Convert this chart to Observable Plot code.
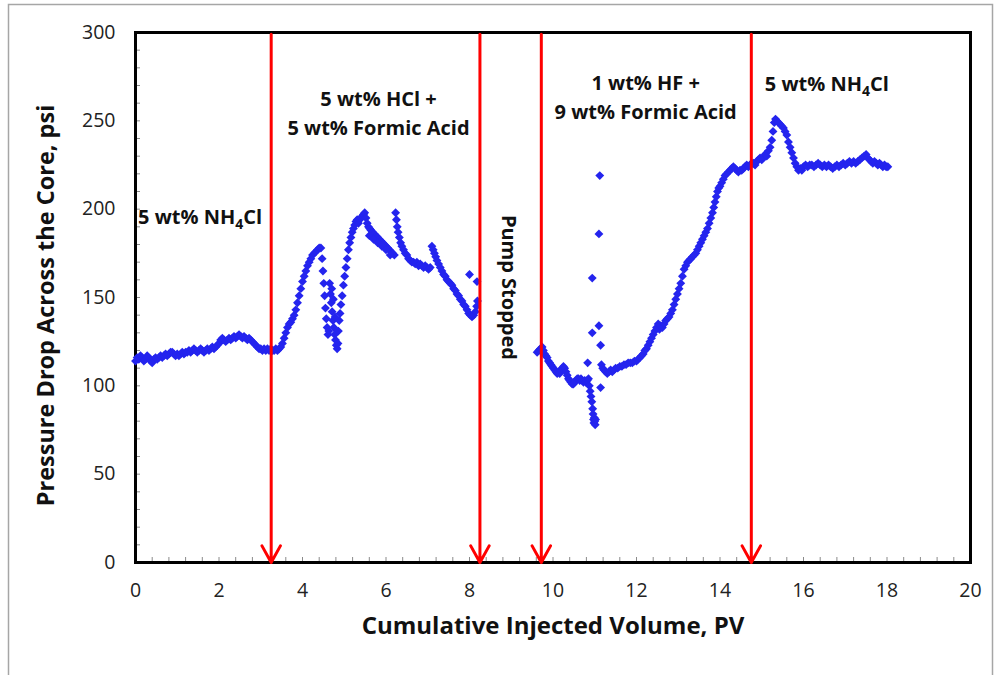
<!DOCTYPE html>
<html>
<head>
<meta charset="utf-8">
<script src="https://cdn.jsdelivr.net/npm/d3@7"></script>
<script src="https://cdn.jsdelivr.net/npm/@observablehq/plot@0.6"></script>
<style>
  html, body { margin: 0; padding: 0; background: #fff; }
</style>
</head>
<body>
<script>
// Core flood: pressure drop vs cumulative injected pore volumes, [PV, psi] per stage
const brinePre = [
  [0.00,114],[0.04,116],[0.08,115],[0.12,117],[0.16,116],[0.20,114],[0.24,115],[0.28,117],[0.32,116],[0.36,114],
  [0.40,113],[0.44,115],[0.48,116],[0.52,115],[0.56,116],[0.60,117],[0.64,116],[0.68,117],[0.72,118],[0.76,117],
  [0.80,118],[0.84,119],[0.88,119],[0.92,118],[0.96,117],[1.00,118],[1.04,117],[1.08,118],[1.12,119],[1.16,118],
  [1.20,119],[1.24,119],[1.28,120],[1.32,119],[1.36,120],[1.40,121],[1.44,120],[1.48,119],[1.52,120],[1.56,121],
  [1.60,120],[1.64,119],[1.68,120],[1.72,121],[1.76,120],[1.80,121],[1.84,122],[1.88,121],[1.92,122],[1.96,123],
  [2.00,124],[2.04,126],[2.08,127],[2.12,126],[2.16,125],[2.20,126],[2.24,127],[2.28,126],[2.32,127],[2.36,128],
  [2.40,127],[2.44,128],[2.48,129],[2.52,128],[2.56,127],[2.60,128],[2.64,127],[2.68,126],[2.72,127],[2.76,126],
  [2.80,125],[2.84,124],[2.88,123],[2.92,122],[2.96,121],[3.00,121],[3.04,120],[3.08,121],[3.12,120],[3.16,121],
  [3.20,120]
];

const hclFormic = [
  [3.24,121],[3.28,120],[3.32,120],[3.36,121],[3.40,120],[3.44,121],[3.48,122],
  [3.52,124],[3.56,127],[3.60,130],[3.64,133],[3.68,135],[3.72,136],[3.76,138],[3.80,140],[3.84,143],[3.88,147],
  [3.92,151],[3.96,155],[4.00,159],[4.04,162],[4.08,165],[4.12,168],[4.16,170],[4.20,172],[4.24,174],[4.28,175],
  [4.32,176],[4.36,177],[4.40,178],[4.44,178],[4.47,172],[4.49,165],[4.51,158],[4.53,151],[4.55,144],[4.57,138],
  [4.59,133],[4.61,129],[4.63,131],[4.65,158],[4.67,152],[4.69,147],[4.71,142],[4.73,137],[4.75,133],[4.77,129],
  [4.79,126],[4.81,123],[4.83,121],[4.85,124],[4.86,131],[4.88,137],[4.70,155],[4.74,149],[4.78,139],
  [4.90,141],[4.92,146],[4.95,151],[4.98,157],[5.01,162],[5.04,167],[5.07,172],[5.10,177],[5.13,181],[5.16,184],
  [5.19,187],[5.22,189],[5.25,191],[5.28,193],[5.31,194],[5.34,192],[5.37,194],[5.40,195],[5.43,196],[5.46,197],
  [5.49,198],[5.52,195],[5.55,192],[5.58,190],[5.61,189],[5.64,188],[5.68,187],[5.72,186],[5.76,185],[5.80,184],
  [5.84,183],[5.88,182],[5.92,181],[5.96,180],[6.00,179],[6.04,178],[6.08,177],[6.12,176],[6.16,175],[6.20,174],
  [5.60,185],[5.70,183],[5.80,181],[5.90,179],[6.00,177],[6.10,174],
  [6.23,198],[6.25,194],[6.27,190],[6.29,187],[6.32,184],[6.35,181],[6.38,179],[6.42,177],[6.46,175],[6.50,174],
  [6.54,172],[6.58,171],[6.62,170],[6.66,170],[6.70,169],[6.74,170],[6.78,168],[6.82,169],[6.86,168],[6.90,167],
  [6.94,168],[6.98,167],[7.02,166],[7.06,167],[7.10,179],[7.13,177],[7.16,175],[7.19,173],[7.22,171],[7.26,169],
  [7.30,167],[7.34,165],[7.38,163],[7.42,162],[7.46,160],[7.50,159],[7.54,158],[7.58,157],[7.62,155],[7.66,154],
  [7.70,152],[7.74,151],[7.78,149],[7.82,148],[7.86,146],[7.90,145],[7.94,143],[7.98,141],[8.02,140],[8.06,139],
  [8.10,140],[8.14,142],[8.17,145],[8.19,148],[8.00,163],[8.18,159]
];

const hfFormic = [
  [9.62,119],[9.66,120],[9.70,121],[9.74,122],[9.77,120],[9.80,118],[9.83,117],[9.86,116],[9.89,114],[9.92,113],
  [9.95,112],[9.98,111],[10.01,110],[10.04,109],[10.07,108],[10.10,107],[10.13,108],[10.16,107],[10.19,109],[10.22,110],
  [10.25,111],[10.28,110],[10.31,108],[10.34,106],[10.37,104],[10.40,103],[10.43,102],[10.46,101],[10.49,101],[10.52,102],
  [10.55,103],[10.58,104],[10.61,104],[10.64,103],[10.67,104],[10.70,103],[10.73,102],[10.76,103],[10.79,102],[10.82,103],
  [10.83,113],[10.85,104],[10.87,100],[10.89,97],[10.91,94],[10.93,91],[10.95,87],[10.96,84],[10.97,81],[10.98,79],
  [10.99,82],[11.00,80],[11.01,78],[11.02,81],[10.94,161],[10.94,130],[11.10,186],[11.12,219],[11.10,134],[11.14,123],
  [11.14,99],
  [11.16,112],[11.19,110],[11.22,109],[11.26,108],[11.30,107],[11.34,108],[11.38,109],[11.42,108],[11.46,109],[11.50,110],
  [11.55,110],[11.60,111],[11.65,111],[11.70,112],[11.75,112],[11.80,113],[11.85,113],[11.90,113],[11.95,114],[12.00,114],
  [12.04,115],[12.08,116],[12.12,117],[12.16,118],[12.20,120],[12.24,121],[12.28,123],[12.32,125],[12.36,127],[12.40,129],
  [12.44,131],[12.48,133],[12.52,135],[12.55,132],[12.58,134],[12.62,133],[12.66,135],[12.70,137],[12.74,138],[12.78,139],
  [12.82,141],[12.86,143],[12.90,146],[12.94,149],[12.98,152],[13.02,155],[13.06,158],[13.10,162],[13.14,166],[13.18,168],
  [13.22,170],[13.26,171],[13.30,172],[13.34,173],[13.38,174],[13.42,175],[13.46,177],[13.50,179],[13.54,181],[13.58,183],
  [13.62,185],[13.66,187],[13.70,189],[13.74,192],[13.78,195],[13.82,198],[13.85,201],[13.88,204],[13.91,207],[13.94,210],
  [13.97,212],[14.00,213],[14.04,215],[14.08,217],[14.12,219],[14.16,220],[14.20,221],[14.24,222],[14.28,223],[14.32,224],
  [14.36,223],[14.40,222],[14.44,221],[14.48,222],[14.52,222],[14.56,223],[14.60,224],[14.64,225],[14.68,224],[14.72,225]
];

const brinePost = [
  [14.76,226],[14.80,226],[14.84,225],[14.88,227],[14.92,228],[14.96,229],[15.00,228],[15.04,229],[15.08,231],[15.12,230],
  [15.16,233],[15.20,235],[15.24,239],[15.27,244],[15.30,249],[15.33,251],[15.36,250],[15.40,249],[15.44,248],[15.48,247],
  [15.52,246],[15.56,244],[15.60,242],[15.64,238],[15.68,235],[15.72,232],[15.76,229],[15.80,226],[15.84,224],[15.88,222],
  [15.92,223],[15.96,222],[16.00,224],[16.05,225],[16.10,224],[16.15,225],[16.20,225],[16.25,224],[16.30,225],[16.35,226],
  [16.40,225],[16.45,224],[16.50,225],[16.55,224],[16.60,225],[16.65,224],[16.70,223],[16.75,224],[16.80,225],[16.85,224],
  [16.90,225],[16.95,226],[17.00,225],[17.05,226],[17.10,227],[17.15,226],[17.20,227],[17.25,226],[17.30,227],[17.35,228],
  [17.40,229],[17.45,230],[17.50,231],[17.54,229],[17.58,228],[17.62,227],[17.66,226],[17.70,227],[17.74,226],[17.78,225],
  [17.82,226],[17.86,225],[17.90,224],[17.94,225],[17.98,224],[18.02,224]
];

// Fluid switch points (PV)
const switchPV = [3.25, 8.25, 9.72, 14.75];

// Axis ticks
const xTicks = [0, 2, 4, 6, 8, 10, 12, 14, 16, 18, 20];
const xMinor = d3.range(0, 51).map(i => i * 0.4);
const yTicks = [0, 50, 100, 150, 200, 250, 300];
const yMinor = d3.range(0, 31).map(i => i * 10);

// Stage labels
const stageLabels = [
  {pv: 5.82, dp: 255.3, text: "5 wt% HCl +\n5 wt% Formic Acid"},
  {pv: 12.22, dp: 264.6, text: "1 wt% HF +\n9 wt% Formic Acid"}
];
const brineLabels = [
  {pv: 1.56, dp: 195.3},
  {pv: 16.57, dp: 270.6}
];
const pumpLabel = [{pv: 8.93, dp: 155.7, text: "Pump Stopped"}];

const xTitle = "Cumulative Injected Volume, PV";
const yTitle = "Pressure Drop Across the Core, psi";

const points = [...brinePre, ...hclFormic, ...hfFormic, ...brinePost].map(([pv, dp]) => ({pv, dp}));

const FONT = "'Open Sans', Lato, sans-serif";
const LABEL_SIZE = 20;

const chart = Plot.plot({
  width: 1001,
  height: 675,
  marginLeft: 135,
  marginRight: 31,
  marginTop: 32,
  marginBottom: 113,
  style: {fontFamily: FONT, color: "#222", background: "#fff"},
  x: {domain: [0, 20], label: null},
  y: {domain: [0, 300], label: null},
  marks: [
    // minor ticks drawn inside the frame
    Plot.axisX({ticks: xMinor, tickSize: -5, tickFormat: () => "", stroke: "#8a8a8a", label: null}),
    Plot.axisY({ticks: yMinor, tickSize: -5, tickFormat: () => "", stroke: "#8a8a8a", label: null}),
    Plot.axisX({ticks: xTicks, tickSize: 0, tickPadding: 21, fontSize: 19.5, fill: "#222", label: null}),
    Plot.axisY({ticks: yTicks, tickSize: 0, tickPadding: 20, fontSize: 19.5, fill: "#222", label: null}),
    Plot.frame({stroke: "#000", strokeWidth: 3}),
    Plot.dot(points, {x: "pv", y: "dp", symbol: "diamond2", r: 4, fill: "#2424ee", stroke: null}),
    Plot.arrow(switchPV, {x1: d => d, x2: d => d, y1: () => 299, y2: () => 0,
      stroke: "#ff0000", strokeWidth: 3, headLength: 9.5, headAngle: 58, insetStart: 0, insetEnd: 0}),
    Plot.text(stageLabels, {x: "pv", y: "dp", text: "text", fontSize: LABEL_SIZE, fontWeight: "bold",
      lineHeight: 1.45, fill: "#111", textAnchor: "middle"}),
    Plot.text(pumpLabel, {x: "pv", y: "dp", text: "text", rotate: 90, fontSize: LABEL_SIZE, fontWeight: "bold", fill: "#111"}),
    Plot.text([yTitle], {text: d => d, frameAnchor: "left", rotate: -90, textAnchor: "middle",
      dx: -89, dy: 8, fontSize: 23.5, fontWeight: "bold", fill: "#111"}),
    Plot.text([xTitle], {text: d => d, frameAnchor: "bottom", dy: 71,
      fontSize: 24, fontWeight: "bold", fill: "#111"})
  ]
});

document.body.appendChild(chart);

// NH4Cl labels with a true subscript
const xs = chart.scale("x"), ys = chart.scale("y");
const svg = d3.select(chart);
const lg = svg.append("g")
  .attr("font-family", FONT).attr("font-weight", "bold").attr("font-size", LABEL_SIZE).attr("fill", "#111");
for (const lab of brineLabels) {
  const t = lg.append("text")
    .attr("x", xs.apply(lab.pv)).attr("y", ys.apply(lab.dp))
    .attr("text-anchor", "middle").attr("dy", "0.35em");
  t.append("tspan").text("5 wt% NH");
  t.append("tspan").text("4").attr("font-size", 14).attr("dy", 5);
  t.append("tspan").text("Cl").attr("dy", -5);
}

// light outer border around the chart area
svg.append("rect")
  .attr("x", 8.5).attr("y", 4.5).attr("width", 984).attr("height", 700)
  .attr("fill", "none").attr("stroke", "#a6a6a6").attr("stroke-width", 1.5);
</script>
</body>
</html>
